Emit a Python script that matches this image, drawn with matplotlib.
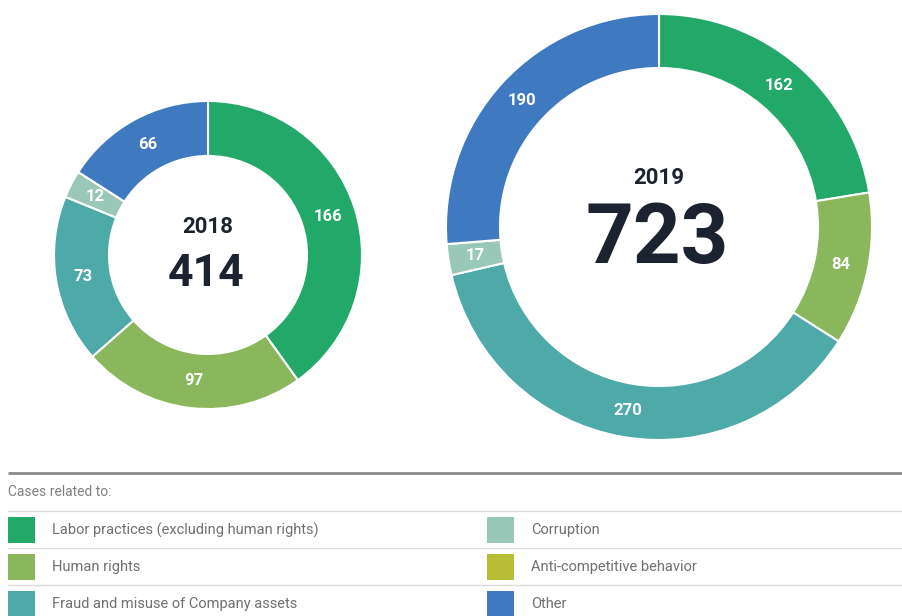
import math
import matplotlib
matplotlib.use("Agg")
import matplotlib.pyplot as plt
import matplotlib.patches as mpatches

# ── data ─────────────────────────────────────
CATEGORIES = ["Labor practices (excluding human rights)", "Human rights",
              "Fraud and misuse of Company assets", "Corruption",
              "Anti-competitive behavior", "Other"]
COLORS = ["#22a96a", "#8ab65c", "#4ea9a9", "#9ac8b8", "#b8bd36", "#3f79bf"]
VALUES_2018 = [166, 97, 73, 12, 0, 66]
VALUES_2019 = [162, 84, 270, 17, 0, 190]
YEARS = ["2018", "2019"]

W, H = 902, 616
DARK = "#1c2330"
plt.rcParams["font.family"] = ["Roboto", "DejaVu Sans"]

fig = plt.figure(figsize=(W / 100, H / 100), dpi=100)
ax = fig.add_axes([0, 0, 1, 1])


def py(y):
    # pixel row (from top) -> data y
    return H - y


def donut(values, cx, cy, r_out, ring, year, yr_y, tot_y, yr_size, tot_size, lab_size):
    ax.pie(values, colors=COLORS, startangle=90, counterclock=False,
           center=(cx, py(cy)), radius=r_out, frame=True,
           wedgeprops=dict(width=ring, edgecolor="white", linewidth=1.5))
    total = sum(values)
    acc = 0
    r_mid = r_out - ring / 2
    for v in values:
        if v == 0:
            continue
        mid = 90 - (acc + v / 2) / total * 360
        acc += v
        x = cx + r_mid * math.cos(math.radians(mid))
        y = py(cy) + r_mid * math.sin(math.radians(mid))
        ax.text(x, y, str(v), color="white", fontsize=lab_size, fontweight="bold",
                ha="center", va="center")
    ax.text(cx, py(yr_y), year, color=DARK, fontsize=yr_size, fontweight="bold",
            ha="center", va="center")
    ax.text(cx - 2, py(tot_y), str(total), color=DARK, fontsize=tot_size,
            fontweight="bold", ha="center", va="center")


donut(VALUES_2018, 208, 255, 154, 55, YEARS[0], 227, 274, 16, 32, 12)
donut(VALUES_2019, 659, 227, 213, 54, YEARS[1], 178, 241, 16, 60, 12)

ax.set_xlim(0, W)
ax.set_ylim(0, H)
ax.set_aspect("equal")
ax.axis("off")

# ── legend ───────────────────────────────────
ax.plot([8, 902], [py(473), py(473)], color="#8c8c8c", lw=2, solid_capstyle="butt")
ax.text(8, py(492), "Cases related to:", color="#808080", fontsize=10,
        ha="left", va="center")
for ly in [511, 548, 585]:
    ax.plot([8, 902], [py(ly), py(ly)], color="#dcdcdc", lw=1)

col_x = [8, 487]
row_y = [530, 567, 604]
for i, (name, c) in enumerate(zip(CATEGORIES, COLORS)):
    x0 = col_x[i // 3]
    y0 = row_y[i % 3]
    ax.add_patch(mpatches.Rectangle((x0, py(y0) - 13), 27, 26, color=c, lw=0))
    ax.text(x0 + 44, py(y0), name, color="#707070", fontsize=10.5,
            ha="left", va="center")

fig.savefig("out.png", dpi=100)
